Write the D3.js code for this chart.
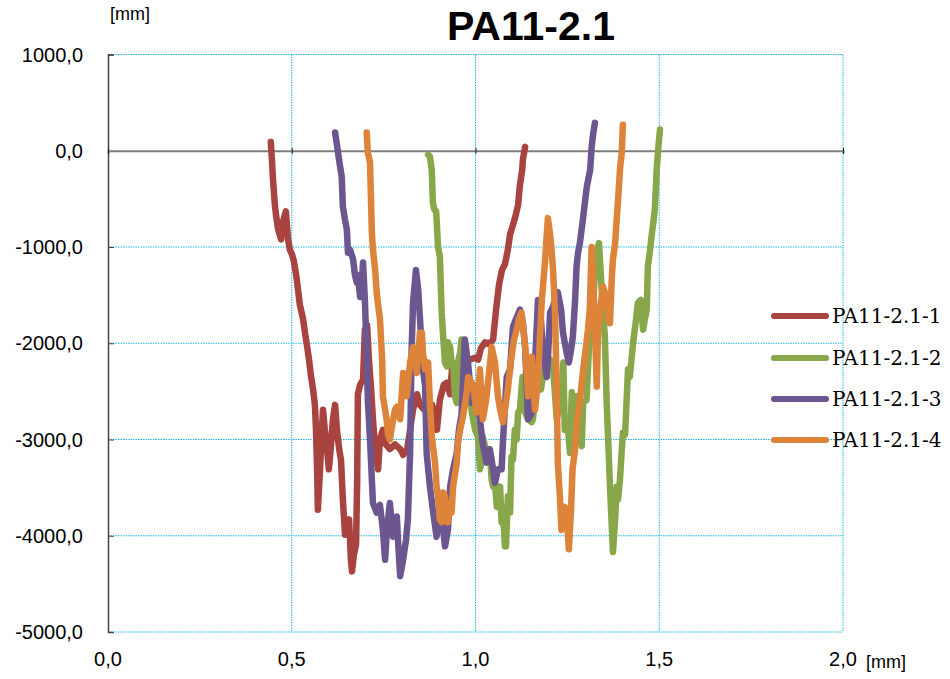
<!DOCTYPE html>
<html>
<head>
<meta charset="utf-8">
<script src="https://cdn.jsdelivr.net/npm/d3@7"></script>
<style>
  html, body { margin: 0; padding: 0; background: #fff; }
  svg { display: block; }
</style>
</head>
<body>
<svg id="chart" width="950" height="679"></svg>
<script>
// ---- data ----
const title = "PA11-2.1";
const seriesNames = ["PA11-2.1-1", "PA11-2.1-2", "PA11-2.1-3", "PA11-2.1-4"];
const seriesColors = ["#a8433f", "#88a74a", "#6c5690", "#de833a"];
const xTicks = [0, 0.5, 1.0, 1.5, 2.0];
const yTicks = [1000, 0, -1000, -2000, -3000, -4000, -5000];

const x1 = [0.443,0.446,0.449,0.454,0.457,0.463,0.471,0.476,0.484,0.490,0.495,0.501,0.506,0.512,0.517,0.522,0.531,0.536,0.541,0.547,0.552,0.558,0.563,0.566,0.569,0.571,0.577,0.582,0.585,0.590,0.596,0.601,0.607,0.612,0.618,0.623,0.629,0.634,0.639,0.645,0.650,0.656,0.661,0.664,0.669,0.675,0.678,0.680,0.686,0.694,0.699,0.705,0.710,0.716,0.721,0.727,0.735,0.740,0.748,0.756,0.767,0.781,0.795,0.803,0.814,0.822,0.830,0.841,0.849,0.860,0.871,0.882,0.890,0.895,0.903,0.914,0.922,0.931,0.936,0.947,0.958,0.971,0.985,0.999,1.007,1.015,1.026,1.037,1.048,1.056,1.064,1.072,1.080,1.088,1.094,1.102,1.110,1.116,1.121,1.127,1.129,1.135];
const y1 = [90,-90,-300,-560,-660,-820,-920,-740,-630,-920,-1030,-1080,-1150,-1290,-1440,-1600,-1750,-1890,-2010,-2170,-2330,-2480,-2640,-2900,-3310,-3730,-3310,-2900,-2690,-2900,-3100,-3310,-3050,-2790,-2640,-2900,-3100,-3210,-3620,-3990,-3940,-3830,-4250,-4370,-4200,-4090,-3420,-2530,-2430,-2380,-1860,-1810,-2170,-2480,-2790,-3100,-3310,-3000,-2900,-3050,-3100,-3050,-3100,-3160,-3100,-2900,-2690,-2530,-2640,-2690,-2690,-2640,-2740,-2900,-2590,-2430,-2410,-2530,-2270,-2220,-2270,-2170,-2170,-2150,-2170,-2050,-1990,-2010,-1960,-1650,-1390,-1240,-1180,-1030,-870,-770,-660,-560,-350,-200,-90,40];

const x2 = [0.871,0.876,0.881,0.884,0.888,0.893,0.898,0.903,0.908,0.912,0.917,0.922,0.925,0.931,0.935,0.939,0.944,0.949,0.952,0.958,0.962,0.966,0.971,0.980,0.985,0.990,0.999,1.007,1.012,1.017,1.020,1.026,1.034,1.039,1.044,1.048,1.053,1.058,1.061,1.067,1.071,1.075,1.080,1.083,1.088,1.094,1.098,1.102,1.107,1.112,1.116,1.121,1.125,1.128,1.135,1.143,1.153,1.156,1.162,1.170,1.178,1.186,1.195,1.203,1.211,1.221,1.227,1.234,1.239,1.243,1.252,1.257,1.262,1.265,1.275,1.279,1.284,1.289,1.293,1.302,1.306,1.311,1.316,1.325,1.331,1.336,1.343,1.347,1.352,1.357,1.366,1.370,1.374,1.380,1.384,1.388,1.393,1.401,1.407,1.415,1.420,1.429,1.437,1.442,1.450,1.456,1.461,1.466,1.469,1.475,1.479,1.483,1.488,1.493,1.497,1.502];
const y2 = [-40,-60,-200,-540,-610,-630,-1000,-1100,-1680,-1930,-2200,-2240,-1990,-2040,-2200,-2200,-2550,-2620,-2200,-2100,-1960,-2450,-1990,-2270,-2550,-2720,-2900,-2970,-3310,-3240,-2970,-3070,-3240,-3140,-3420,-3490,-3450,-3700,-3520,-3490,-3860,-3760,-4110,-4110,-3590,-3760,-3180,-3210,-2900,-3000,-2720,-2690,-2480,-2350,-2720,-2790,-2820,-2790,-2590,-2430,-2480,-2290,-2220,-2170,-2240,-2790,-2690,-2510,-2200,-2900,-2900,-3140,-2510,-3100,-2550,-2790,-2970,-3070,-2620,-2590,-2270,-1890,-1990,-1240,-1030,-960,-1410,-1650,-1930,-2620,-3490,-3830,-4170,-3830,-3490,-3620,-3420,-2930,-2950,-2270,-2350,-1990,-1750,-1580,-1550,-1860,-1750,-1650,-1200,-1030,-890,-770,-610,-200,10,220];

const x3 = [0.618,0.623,0.626,0.631,0.636,0.639,0.645,0.650,0.653,0.659,0.667,0.672,0.677,0.680,0.686,0.691,0.694,0.699,0.704,0.707,0.713,0.718,0.721,0.731,0.740,0.748,0.754,0.759,0.767,0.776,0.786,0.789,0.795,0.803,0.811,0.816,0.822,0.826,0.830,0.838,0.844,0.849,0.857,0.863,0.867,0.876,0.884,0.894,0.903,0.909,0.917,0.925,0.931,0.939,0.949,0.955,0.962,0.971,0.980,0.990,1.003,1.012,1.020,1.030,1.039,1.048,1.053,1.061,1.071,1.075,1.085,1.094,1.102,1.110,1.121,1.129,1.135,1.143,1.151,1.156,1.165,1.170,1.178,1.184,1.194,1.197,1.203,1.211,1.219,1.224,1.233,1.238,1.248,1.254,1.260,1.265,1.271,1.275,1.279,1.284,1.292,1.303,1.312,1.316,1.320,1.325];
const y3 = [190,60,-20,-150,-270,-580,-720,-820,-1060,-1030,-1130,-1290,-1370,-1290,-1520,-1340,-1160,-1550,-2100,-2590,-3000,-3420,-3660,-3760,-3680,-3940,-4250,-3940,-3660,-4010,-3800,-4040,-4420,-4250,-4040,-3830,-3140,-2100,-1580,-1240,-1440,-1750,-2270,-2450,-3140,-3490,-3730,-4010,-3660,-3830,-4110,-3940,-3490,-3310,-3140,-2900,-2740,-1960,-2220,-2620,-2620,-2790,-3050,-3240,-3100,-3310,-3450,-3310,-3310,-3000,-2350,-2270,-1830,-1750,-1650,-1790,-2040,-2790,-2740,-2690,-1960,-1550,-1750,-2100,-2350,-2170,-1680,-1620,-1500,-1470,-1650,-1890,-2100,-2200,-2070,-1930,-1550,-1200,-1060,-960,-720,-370,-200,40,170,290];

const x4 = [0.704,0.707,0.713,0.718,0.721,0.727,0.731,0.735,0.740,0.746,0.748,0.754,0.758,0.762,0.767,0.776,0.781,0.786,0.795,0.803,0.808,0.813,0.822,0.830,0.835,0.840,0.849,0.854,0.857,0.863,0.871,0.876,0.881,0.884,0.890,0.894,0.898,0.903,0.908,0.912,0.917,0.922,0.925,0.931,0.935,0.939,0.949,0.952,0.958,0.966,0.971,0.976,0.980,0.985,0.993,1.003,1.007,1.012,1.020,1.029,1.034,1.044,1.053,1.061,1.067,1.075,1.080,1.088,1.098,1.105,1.112,1.118,1.125,1.129,1.135,1.143,1.148,1.153,1.156,1.162,1.170,1.175,1.180,1.184,1.189,1.193,1.197,1.203,1.207,1.211,1.216,1.221,1.224,1.230,1.234,1.238,1.243,1.249,1.254,1.260,1.264,1.271,1.275,1.279,1.284,1.292,1.302,1.306,1.311,1.316,1.320,1.325,1.330,1.333,1.339,1.347,1.352,1.357,1.361,1.366,1.371,1.374,1.380,1.384,1.388,1.393,1.398,1.401];
const y4 = [190,-20,-120,-850,-1030,-1240,-1470,-1600,-1750,-2170,-2550,-2690,-2790,-2950,-3000,-2790,-2690,-2660,-2790,-2310,-2480,-2550,-2200,-2040,-2070,-2310,-1890,-1890,-2100,-2270,-2200,-2620,-2970,-3070,-3240,-3490,-3590,-3830,-3860,-3550,-3590,-3760,-3860,-3660,-3760,-3490,-3240,-3050,-2900,-2760,-2640,-2510,-2350,-2380,-2430,-2720,-2590,-2270,-2790,-2590,-2410,-2040,-2200,-2550,-2690,-2820,-2690,-2480,-2140,-1960,-1860,-1750,-1680,-1810,-2040,-2550,-2380,-2140,-2380,-2690,-2380,-1960,-1580,-1390,-1160,-920,-700,-870,-1030,-1240,-1650,-2450,-3240,-3620,-3940,-3880,-3700,-3830,-4140,-3730,-3310,-3100,-2870,-2740,-2590,-2310,-1990,-1860,-1650,-1000,-1310,-1860,-2450,-1960,-1650,-1410,-1470,-1520,-1750,-1790,-1310,-1130,-960,-720,-510,-200,-20,270];

const seriesX = [x1, x2, x3, x4];
const seriesY = [y1, y2, y3, y4];

// ---- layout ----
const svg = d3.select("#chart");
const plot = { left: 108, right: 843, top: 54.5, bottom: 632 };

const x = d3.scaleLinear().domain([0, 2]).range([plot.left, plot.right]);
const y = d3.scaleLinear().domain([-5000, 1000]).range([plot.bottom, plot.top]);
// one decimal, comma separator, plain hyphen for negatives
const fmt = v => d3.format(".1f")(v).replace(".", ",").replace("\u2212", "-");

const gridColor = "#1fb8ec";

// horizontal grid lines
svg.append("g").selectAll("line").data(yTicks.filter(v => v !== 0)).join("line")
  .attr("x1", plot.left).attr("x2", plot.right)
  .attr("y1", d => y(d)).attr("y2", d => y(d))
  .attr("stroke", gridColor).attr("stroke-width", 1).attr("stroke-dasharray", "1.5,1");

// vertical grid lines
svg.append("g").selectAll("line").data(xTicks.filter(v => v !== 0)).join("line")
  .attr("x1", d => x(d)).attr("x2", d => x(d))
  .attr("y1", plot.top).attr("y2", plot.bottom)
  .attr("stroke", gridColor).attr("stroke-width", 1).attr("stroke-dasharray", "1.5,1");

// y axis with short inward ticks
const yAxis = d3.axisRight(y).tickValues(yTicks).tickSize(6).tickFormat("");
svg.append("g").attr("transform", `translate(${plot.left},0)`).call(yAxis)
  .call(g => g.select(".domain").attr("stroke", "#444").attr("stroke-width", 1.5))
  .call(g => g.selectAll(".tick line").attr("stroke", "#444"));

// y tick labels
svg.append("g").selectAll("text").data(yTicks).join("text")
  .attr("x", 83).attr("y", d => y(d) + 7)
  .attr("text-anchor", "end")
  .attr("font-family", "Liberation Sans, Arial, sans-serif")
  .attr("font-size", 20).attr("fill", "#000")
  .text(d => fmt(d));

// zero line (x axis) with small ticks
const xAxis = d3.axisBottom(x).tickValues(xTicks).tickSize(3).tickFormat("");
svg.append("g").attr("transform", `translate(0,${y(0)})`).call(xAxis)
  .call(g => g.select(".domain").attr("stroke", "#7f7f7f").attr("stroke-width", 2))
  .call(g => g.selectAll(".tick line").attr("stroke", "#222").attr("y1", -3));

// x tick labels
svg.append("g").selectAll("text").data(xTicks).join("text")
  .attr("x", d => x(d)).attr("y", 666)
  .attr("text-anchor", "middle")
  .attr("font-family", "Liberation Sans, Arial, sans-serif")
  .attr("font-size", 20).attr("fill", "#000")
  .text(d => fmt(d));

// unit labels
svg.append("text").attr("x", 110).attr("y", 20)
  .attr("font-family", "Liberation Sans, Arial, sans-serif").attr("font-size", 18)
  .text("[mm]");
svg.append("text").attr("x", 866).attr("y", 668)
  .attr("font-family", "Liberation Sans, Arial, sans-serif").attr("font-size", 18)
  .text("[mm]");

// title
svg.append("text").attr("x", 531).attr("y", 40)
  .attr("text-anchor", "middle")
  .attr("font-family", "Liberation Sans, Arial, sans-serif")
  .attr("font-weight", "bold").attr("font-size", 41)
  .text(title);

// series lines
const line = d3.line().x(d => x(d[0])).y(d => y(d[1]));
seriesNames.forEach((name, i) => {
  const pts = seriesX[i].map((xv, j) => [xv, seriesY[i][j]]);
  svg.append("path").datum(pts)
    .attr("d", line)
    .attr("fill", "none")
    .attr("stroke", seriesColors[i])
    .attr("stroke-width", 6.5)
    .attr("stroke-linejoin", "round")
    .attr("stroke-linecap", "round");
});

// legend
const legend = svg.append("g");
const legendY = [316, 358, 399, 440];
seriesNames.forEach((name, i) => {
  legend.append("line")
    .attr("x1", 774).attr("x2", 826)
    .attr("y1", legendY[i]).attr("y2", legendY[i])
    .attr("stroke", seriesColors[i]).attr("stroke-width", 6)
    .attr("stroke-linecap", "round");
  legend.append("text")
    .attr("x", 832).attr("y", legendY[i] + 7)
    .attr("font-family", "DejaVu Serif, Liberation Serif, serif")
    .attr("font-size", 20).attr("fill", "#000")
    .text(name);
});
</script>
</body>
</html>
